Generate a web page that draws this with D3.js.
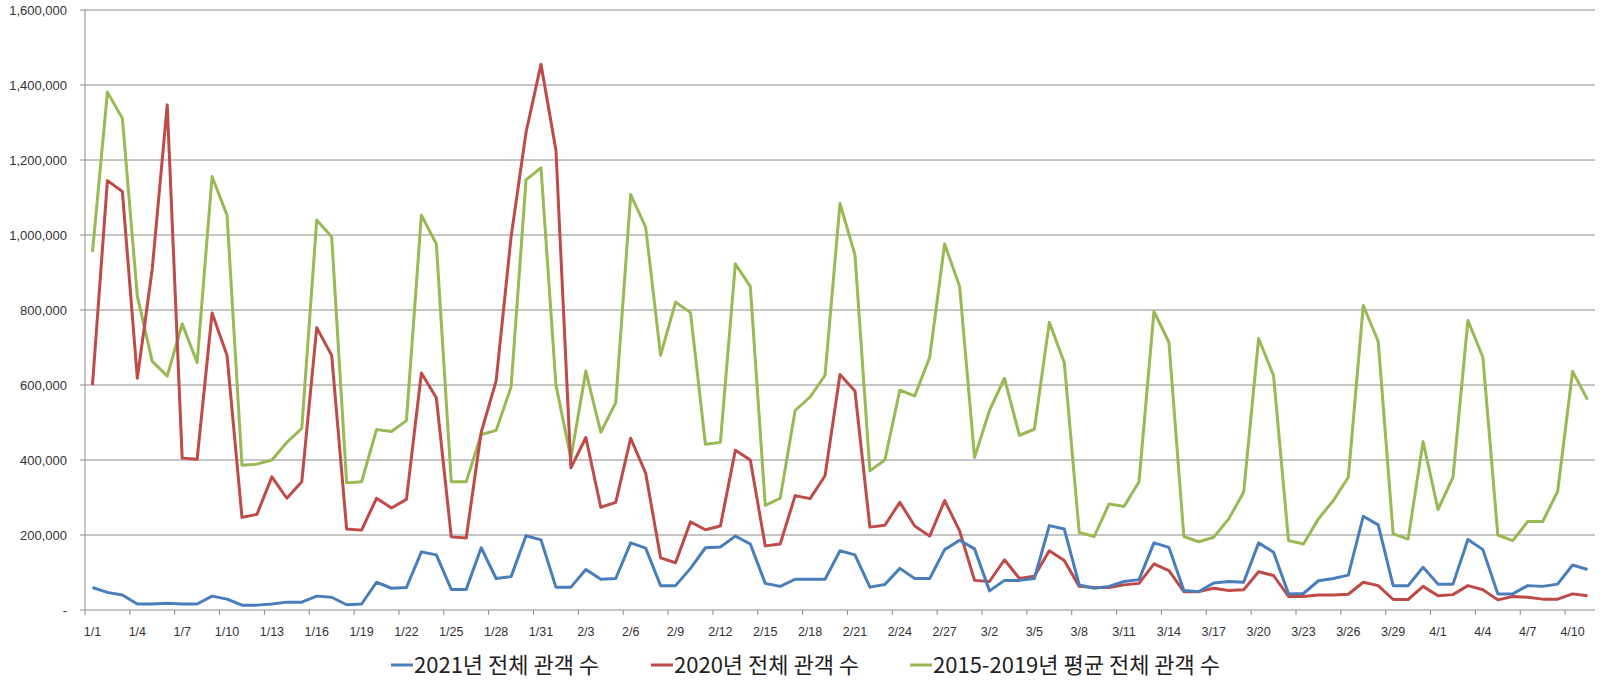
<!DOCTYPE html>
<html><head><meta charset="utf-8">
<script src="https://cdn.jsdelivr.net/npm/d3@7"></script>
<style>body{margin:0;background:#fff;}</style>
</head><body><svg id="c" width="1607" height="684"></svg>
<script>
const startDate = "2021-01-01";
const dayCount = 101;
const seriesNames = ["2021년 전체 관객 수","2020년 전체 관객 수","2015-2019년 평균 전체 관객 수"];
const yTicks = [0,200000,400000,600000,800000,1000000,1200000,1400000,1600000];
const v2021 = [60,47,40,16,16,18,16,16,37,29,13,13,16,21,21,37,34,14,16,74,58,60,155,147,55,55,166,84,89,198,187,61,61,108,82,84,179,165,65,65,111,166,168,197,176,71,63,82,82,82,158,147,61,68,111,84,84,161,186,163,51,79,79,84,225,216,67,58,63,76,81,179,167,52,49,72,76,74,179,154,43,44,78,84,93,250,227,65,65,114,69,69,188,161,43,43,65,63,69,120,108];
const v2020 = [600,1145,1116,618,910,1347,405,402,792,679,247,255,355,298,342,753,679,216,213,298,272,295,632,566,195,192,474,611,995,1274,1455,1226,379,460,274,287,458,365,139,126,235,214,224,426,400,171,176,305,297,358,628,584,221,226,287,224,197,292,211,79,76,134,84,90,158,132,63,60,60,67,71,123,105,49,49,58,52,54,102,92,36,36,40,40,42,74,65,28,28,63,38,41,65,54,27,36,34,29,29,43,38];
const vAvg = [955,1381,1311,837,663,624,763,660,1156,1053,386,389,400,447,484,1040,995,339,342,481,476,505,1053,976,342,342,468,479,595,1147,1179,600,405,637,474,553,1108,1021,679,821,793,442,447,923,863,279,298,532,568,626,1084,947,371,400,586,571,674,976,863,407,532,618,466,482,767,660,207,196,283,276,342,796,714,196,182,194,243,314,724,625,185,176,243,292,354,812,716,203,189,449,268,354,772,674,200,185,236,236,316,636,561];
const colors = ["#4A7EBB","#BE4B48","#98B954"];

const t0 = new Date(startDate+"T00:00:00");
const days = d3.range(dayCount).map(i=>{const d=new Date(t0);d.setDate(d.getDate()+i);return (d.getMonth()+1)+"/"+d.getDate();});
const series = [v2021,v2020,vAvg].map(a=>a.map(v=>v*1000));

const svg = d3.select("#c");
const L=85,R=1595,T=10,B=610;
const x = d3.scaleBand().domain(days).range([L,R]).paddingInner(0).paddingOuter(0);
const y = d3.scaleLinear().domain([0,1600000]).range([B,T]);
const cx = d=>x(d)+x.bandwidth()/2;

svg.append("g").selectAll("line").data(yTicks.slice(1)).join("line")
  .attr("x1",L).attr("x2",R).attr("y1",d=>y(d)).attr("y2",d=>y(d))
  .attr("stroke","#8c8c8c").attr("stroke-width",1);
const fmt = d3.format(",");
svg.append("g").selectAll("text").data(yTicks).join("text")
  .attr("x",L-18).attr("y",d=>y(d)+4.5).attr("text-anchor","end")
  .attr("font-family","Liberation Sans, Arial").attr("font-size",13).attr("fill","#333")
  .text(d=>d===0?"-":fmt(d));
svg.append("g").selectAll("line").data(yTicks).join("line")
  .attr("x1",L-5).attr("x2",L).attr("y1",d=>y(d)).attr("y2",d=>y(d)).attr("stroke","#8c8c8c");
svg.append("line").attr("x1",L).attr("x2",L).attr("y1",T).attr("y2",B).attr("stroke","#8c8c8c");
svg.append("line").attr("x1",L).attr("x2",R).attr("y1",B).attr("y2",B).attr("stroke","#8c8c8c");
const tickIdx = d3.range(0,dayCount+1,3);
svg.append("g").selectAll("line").data(tickIdx).join("line")
  .attr("x1",i=>L+i*x.bandwidth()).attr("x2",i=>L+i*x.bandwidth())
  .attr("y1",B).attr("y2",B+5).attr("stroke","#8c8c8c");
svg.append("g").selectAll("text").data(days.filter((d,i)=>i%3===0)).join("text")
  .attr("x",d=>cx(d)).attr("y",B+26).attr("text-anchor","middle")
  .attr("font-family","Liberation Sans, Arial").attr("font-size",12.5).attr("fill","#333")
  .text(d=>d);

const line = d3.line().x((v,i)=>cx(days[i])).y(v=>y(v));
[2,1,0].forEach(k=>{
  svg.append("path").attr("d",line(series[k])).attr("fill","none")
    .attr("stroke",colors[k]).attr("stroke-width",3).attr("stroke-linejoin","round");
});

const legX=[391,651,910];
const lg = svg.append("g");
seriesNames.forEach((n,k)=>{
  lg.append("line").attr("x1",legX[k]).attr("x2",legX[k]+22).attr("y1",665).attr("y2",665)
    .attr("stroke",colors[k]).attr("stroke-width",3);
  lg.append("text").attr("x",legX[k]+23).attr("y",673).attr("font-family","Noto Sans CJK KR")
    .attr("font-size",22).attr("fill","#222").text(n);
});
</script></body></html>
